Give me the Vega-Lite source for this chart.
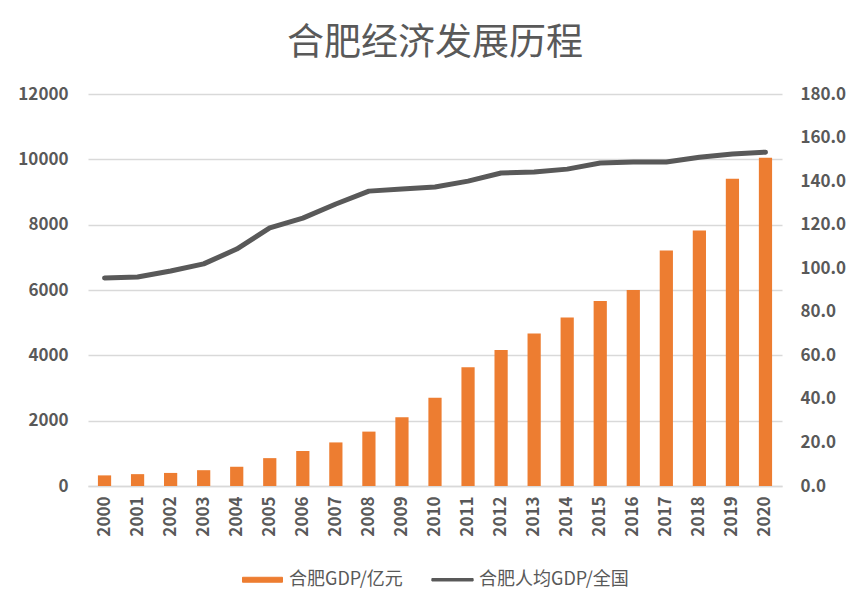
{
  "$schema": "https://vega.github.io/schema/vega-lite/v6.json",
  "autosize": {"type": "none"},
  "padding": {"left": 88, "top": 94, "right": 80, "bottom": 118},
  "width": 694,
  "height": 392,
  "background": "white",
  "title": {
    "text": "合肥经济发展历程",
    "anchor": "middle",
    "font": "Noto Sans CJK SC",
    "fontSize": 37,
    "fontWeight": "normal",
    "color": "#595959",
    "offset": 22
  },
  "config": {
    "view": {"stroke": null},
    "font": "Noto Sans CJK SC"
  },
  "data": {
    "values": [
      {"year": "2000", "gdp": 325, "ratio": 95.5},
      {"year": "2001", "gdp": 363, "ratio": 96.0},
      {"year": "2002", "gdp": 400, "ratio": 98.7},
      {"year": "2003", "gdp": 484, "ratio": 102.0},
      {"year": "2004", "gdp": 589, "ratio": 108.8},
      {"year": "2005", "gdp": 853, "ratio": 118.5},
      {"year": "2006", "gdp": 1073, "ratio": 123.0},
      {"year": "2007", "gdp": 1334, "ratio": 129.5},
      {"year": "2008", "gdp": 1665, "ratio": 135.4},
      {"year": "2009", "gdp": 2102, "ratio": 136.4},
      {"year": "2010", "gdp": 2702, "ratio": 137.3},
      {"year": "2011", "gdp": 3637, "ratio": 140.0},
      {"year": "2012", "gdp": 4164, "ratio": 143.7},
      {"year": "2013", "gdp": 4672, "ratio": 144.2},
      {"year": "2014", "gdp": 5158, "ratio": 145.5},
      {"year": "2015", "gdp": 5660, "ratio": 148.3},
      {"year": "2016", "gdp": 6000, "ratio": 148.8},
      {"year": "2017", "gdp": 7213, "ratio": 148.8},
      {"year": "2018", "gdp": 7823, "ratio": 151.0},
      {"year": "2019", "gdp": 9409, "ratio": 152.4},
      {"year": "2020", "gdp": 10045, "ratio": 153.3}
    ]
  },
  "encoding": {
    "x": {
      "field": "year",
      "type": "ordinal",
      "title": null,
      "scale": {"paddingInner": 0.6, "paddingOuter": 0.3},
      "axis": {
        "labelAngle": -90,
        "labelFontSize": 17,
        "labelFontWeight": "bold",
        "labelColor": "#595959",
        "labelFont": "Noto Sans CJK SC",
        "labelPadding": 10,
        "ticks": false,
        "domainColor": "#d9d9d9",
        "domainWidth": 1.5
      }
    }
  },
  "layer": [
    {
      "mark": {"type": "bar"},
      "encoding": {
        "y": {
          "field": "gdp",
          "type": "quantitative",
          "title": null,
          "scale": {"domain": [0, 12000]},
          "axis": {
            "values": [0, 2000, 4000, 6000, 8000, 10000, 12000],
            "format": "d",
            "labelFontSize": 17,
            "labelFontWeight": "bold",
            "labelColor": "#595959",
            "labelPadding": 20,
            "ticks": false,
            "domain": false,
            "gridColor": "#d9d9d9",
            "gridWidth": 1.5
          }
        },
        "color": {
          "datum": "合肥GDP/亿元",
          "type": "nominal",
          "scale": {"domain": ["合肥GDP/亿元", "合肥人均GDP/全国"], "range": ["#ED7D31", "#595959"]},
          "legend": {
            "title": null,
            "orient": "none",
            "direction": "horizontal",
            "legendX": 153,
            "legendY": 464,
            "labelFontSize": 18,
            "labelColor": "#595959",
            "labelOffset": 5,
            "symbolSize": 1700,
            "columnPadding": 28,
            "encode": {
              "symbols": {
                "update": {
                  "shape": {"signal": "datum.value === '合肥GDP/亿元' ? 'M-0.97,-0.12H0.97V0.12H-0.97Z' : 'M-1,-0.06H1V0.06H-1Z'"},
                  "fill": {"signal": "datum.value === '合肥GDP/亿元' ? '#ED7D31' : '#595959'"},
                  "stroke": {"signal": "datum.value === '合肥GDP/亿元' ? '#ED7D31' : '#595959'"},
                  "strokeWidth": {"value": 1},
                  "strokeJoin": {"value": "round"}
                }
              }
            }
          }
        }
      }
    },
    {
      "mark": {"type": "line", "strokeWidth": 5, "strokeCap": "round", "strokeJoin": "round"},
      "encoding": {
        "y": {
          "field": "ratio",
          "type": "quantitative",
          "title": null,
          "scale": {"domain": [0, 180]},
          "axis": {
            "orient": "right",
            "values": [0, 20, 40, 60, 80, 100, 120, 140, 160, 180],
            "format": ".1f",
            "labelFontSize": 17,
            "labelFontWeight": "bold",
            "labelColor": "#595959",
            "labelPadding": 18,
            "ticks": false,
            "domain": false,
            "grid": false
          }
        },
        "color": {"datum": "合肥人均GDP/全国", "type": "nominal"}
      }
    }
  ],
  "resolve": {"scale": {"y": "independent"}}
}
